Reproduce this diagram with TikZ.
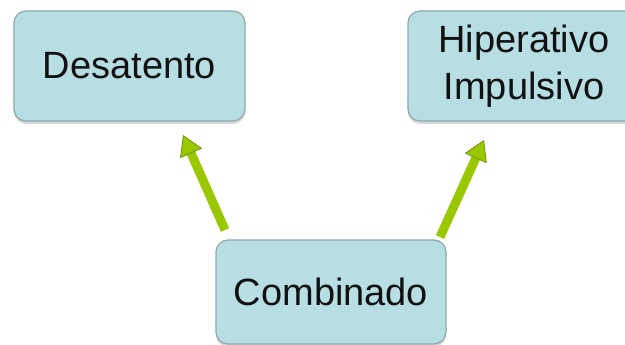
\documentclass[tikz,border=0pt]{standalone}
\usepackage{fontspec}
\setmainfont{Liberation Sans}
\usetikzlibrary{arrows.meta,shadows}
\definecolor{boxfill}{HTML}{B7DEE3}
\definecolor{boxline}{HTML}{8FA8AC}
\definecolor{arrowfill}{HTML}{99C800}
\definecolor{arrowline}{HTML}{6E9400}
\definecolor{txt}{HTML}{111111}
\begin{document}
\begin{tikzpicture}[x=1pt,y=1pt,
  box/.style={draw=boxline, line width=1.2pt, fill=boxfill, rounded corners=12pt,
    align=center, text=txt, inner sep=0pt,
    font=\fontsize{38}{47}\selectfont,
    drop shadow={shadow xshift=0pt, shadow yshift=-3pt, fill=black!15, opacity=1}},
  greenarrow/.style={line width=9pt, draw=arrowfill,
    -{Triangle[length=20pt,width=24pt,fill=arrowfill,color=arrowline,line width=0.8pt]}}
]
\useasboundingbox (0,0) rectangle (625,345);
\clip (0,0) rectangle (625,345);
\fill[white] (0,0) rectangle (625,345);
\node[box, minimum width=231pt, minimum height=110pt] (desa) at (129.5,279) {Desatento};
\node[box, minimum width=232pt, minimum height=110pt] (hiper) at (524,279) {Hiperativo\\Impulsivo};
\node[box, minimum width=230pt, minimum height=104pt] (comb) at (331,53) {Combinado};
\coordinate (a1s) at (225,115);
\coordinate (a1e) at (183,210);
\coordinate (a2s) at (440,108);
\coordinate (a2e) at (484,205);
\draw[greenarrow] (a1s) -- (a1e);
\draw[greenarrow] (a2s) -- (a2e);
\end{tikzpicture}
\end{document}
